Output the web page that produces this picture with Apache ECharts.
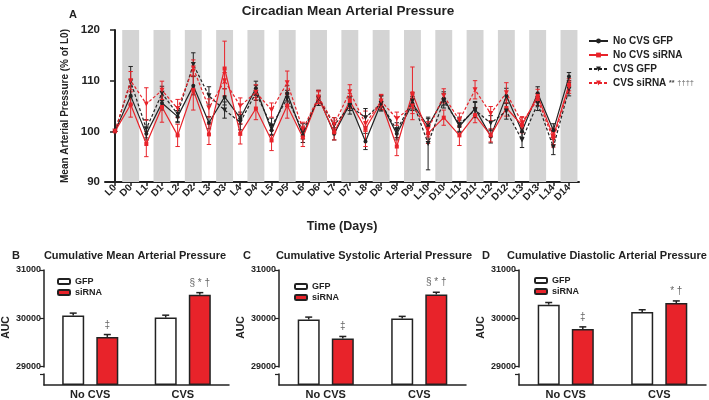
<!DOCTYPE html>
<html><head><meta charset="utf-8">
<script src="https://cdn.jsdelivr.net/npm/echarts@6/dist/echarts.min.js"></script>
<style>html,body{margin:0;padding:0;background:#fff}#c{width:709px;height:400px}</style>
</head><body><div id="c"></div>
<script>
// ---------- Data ----------
const timeLabels = ['L0','D0','L1','D1','L2','D2','L3','D3','L4','D4','L5','D5','L6','D6','L7','D7','L8','D8','L9','D9','L10','D10','L11','D11','L12','D12','L13','D13','L14','D14'];
const seriesNames = ['No CVS GFP','No CVS siRNA','CVS GFP','CVS siRNA'];
const noCvsGfp   = [100,107,99.5,105.6,102.9,109,101.7,106.8,102.6,108.5,100.2,107.5,99.2,106.8,99.5,105.5,98,105.6,99.5,105.5,101,106.5,101,104.5,99,107,100,107.5,100.2,110.8];
const noCvsSirna = [100,105.3,97.5,104.8,99.2,108.2,99.4,112.4,99.5,104.5,98.2,105.1,98.8,106.6,99.8,106,100.5,105.8,97,107.5,99.6,102.7,99.2,103.2,99.2,104.6,101.2,107,99,109.2];
const cvsGfp     = [100,109.8,100.5,107.5,103.4,113.2,107,104.2,101.8,107.6,101,106.5,100,106.6,101.2,105,102.7,105.5,100.2,106,97.6,106,101.4,104.2,101.6,104,98.3,105.5,96.9,108.3];
const cvsSirna   = [100,110,105.4,108.1,104.5,112.5,104.6,110,105,107.7,104.2,109.6,100.4,106.8,101.4,107.8,101.5,106,102.5,105,100.4,107,102.2,108.2,103.5,107.6,101.7,106.3,98.4,108.7];
const noCvsGfpErr   = [0,1.8,1.2,1.4,1.2,1.8,1.2,1.6,1.2,1.4,1,1.5,1.4,1.2,1.2,1.4,1.6,1.4,1.2,1.4,1.5,1.3,1.2,1.4,1.3,1.5,1.2,1.3,1.3,0.8];
const noCvsSirnaErr = [0,2.5,2.5,3,2.2,4,2,5.4,2,2.2,2,2.5,1.8,1.2,1.5,1.5,3.5,1.5,1.8,5.2,2,1.5,2,1.5,1.3,1.6,1.5,1.3,1.6,1.2];
const cvsGfpErr     = [0,3,1.8,1.4,1.5,2.3,1.8,1.6,1.5,1.5,1.6,1.6,1.5,1.5,1.5,1.6,1.8,1.5,1.5,1.6,5.2,1.4,1.4,1.5,1.5,1.6,1.5,1.4,1.5,1.3];
const cvsSirnaErr   = [0,1.8,3.2,1.8,1.8,1.6,1.8,1.6,1.6,1.5,1.4,2.3,1.4,1.3,1.3,1.4,1.5,1.2,1.3,1.5,1.5,1.4,1.4,1.8,1.4,2,1.2,1.2,1.5,1.2];

const barGroups = ['No CVS','CVS'];
const barLegend = ['GFP','siRNA'];
const mapGfp   = [30055, 30012];  const mapGfpErr   = [50,50];
const mapSirna = [29610, 30485];  const mapSirnaErr = [50,45];
const sapGfp   = [29972, 29992];  const sapGfpErr   = [50,45];
const sapSirna = [29575, 30493];  const sapSirnaErr = [45,45];
const dapGfp   = [30280, 30130];  const dapGfpErr   = [45,45];
const dapSirna = [29774, 30313];  const dapSirnaErr = [45,45];
const mapMarks = ['‡','§ * †'];
const sapMarks = ['‡','§ * †'];
const dapMarks = ['‡','* †'];
const barYTicks = [0,29000,30000,31000];

// ---------- Styles ----------
const FONT = 'Arial, "Liberation Sans", sans-serif';
const INK = '#222';
const RED = '#e8232a';
const BAR_W = 22, BAR_GAP = 0.55;

const chart = echarts.init(document.getElementById('c'), null, {renderer:'canvas'});

function lineSeries(name, vals, color, dashed, symbol){
  return {
    type:'line', name, xAxisIndex:0, yAxisIndex:0, z:4,
    data: vals.map((v,i)=>[i,v]),
    symbol, symbolSize: symbol==='triangle'?5:4, symbolRotate: symbol==='triangle'?180:0,
    lineStyle:{color, width:1.2, type: dashed?[3,2]:'solid'},
    itemStyle:{color},
    emphasis:{disabled:true}, animation:false
  };
}
function errSeries(vals, errs, color){
  return {
    type:'custom', xAxisIndex:0, yAxisIndex:0, z:3, silent:true, animation:false,
    data: vals.map((v,i)=>[i, v-errs[i], v+errs[i]]),
    encode:{x:0, y:[1,2]},
    renderItem(p, api){
      const x = api.value(0);
      const lo = api.coord([x, api.value(1)]);
      const hi = api.coord([x, api.value(2)]);
      const w = 2.2;
      const st = {stroke:color, lineWidth:1};
      return {type:'group', children:[
        {type:'line', shape:{x1:lo[0],y1:lo[1],x2:hi[0],y2:hi[1]}, style:st},
        {type:'line', shape:{x1:lo[0]-w,y1:lo[1],x2:lo[0]+w,y2:lo[1]}, style:st},
        {type:'line', shape:{x1:hi[0]-w,y1:hi[1],x2:hi[0]+w,y2:hi[1]}, style:st}
      ]};
    }
  };
}
// gray bands behind every dark-phase (D) category
const bandData = timeLabels.map((t,i)=>t[0]==='D' ? [{xAxis:i-0.54},{xAxis:i+0.54}] : null).filter(Boolean);

const series = [
  {type:'line', xAxisIndex:0, yAxisIndex:0, data:[], z:1, silent:true,
   markArea:{silent:true, itemStyle:{color:'#d4d4d4'}, data: bandData}},
  errSeries(noCvsGfp, noCvsGfpErr, INK),
  errSeries(noCvsSirna, noCvsSirnaErr, RED),
  errSeries(cvsGfp, cvsGfpErr, INK),
  errSeries(cvsSirna, cvsSirnaErr, RED),
  lineSeries(seriesNames[0], noCvsGfp, INK, false, 'circle'),
  lineSeries(seriesNames[1], noCvsSirna, RED, false, 'rect'),
  lineSeries(seriesNames[2], cvsGfp, INK, true, 'triangle'),
  lineSeries(seriesNames[3], cvsSirna, RED, true, 'triangle'),
];

// ---------- bar panels ----------
const panels = [
  {left:42,  gfp:mapGfp, gfpErr:mapGfpErr, si:mapSirna, siErr:mapSirnaErr, marks:mapMarks, legTop:272},
  {left:279, gfp:sapGfp, gfpErr:sapGfpErr, si:sapSirna, siErr:sapSirnaErr, marks:sapMarks, legTop:277},
  {left:519, gfp:dapGfp, gfpErr:dapGfpErr, si:dapSirna, siErr:dapSirnaErr, marks:dapMarks, legTop:271},
];
const grids = [{left:105, right:130, top:30, height:152}];
const xAxes = [{
  gridIndex:0, type:'value', min:-0.64, max:29.64, splitLine:{show:false},
  axisLine:{onZero:false, lineStyle:{color:INK, width:2}},
  axisTick:{customValues: timeLabels.map((t,i)=>i), length:4, lineStyle:{color:INK, width:1.5}},
  axisLabel:{customValues: timeLabels.map((t,i)=>i), rotate:45, margin:4,
    formatter: v => timeLabels[Math.round(v)], fontFamily:FONT, fontWeight:'bold', fontSize:10, color:INK},
  name:'Time (Days)', nameLocation:'middle', nameGap:38,
  nameTextStyle:{fontFamily:FONT, fontWeight:'bold', fontSize:12.5, color:INK}
}];
const yAxes = [{
  gridIndex:0, type:'value', min:90, max:120, interval:10, splitLine:{show:false},
  axisLine:{show:true, lineStyle:{color:INK, width:2}},
  axisTick:{show:true, length:5, lineStyle:{color:INK, width:1.5}},
  axisLabel:{fontFamily:FONT, fontWeight:'bold', fontSize:11.5, color:INK, margin:5},
  name:'Mean Arterial Pressure (% of L0)', nameLocation:'middle', nameGap:33,
  nameTextStyle:{fontFamily:FONT, fontWeight:'bold', fontSize:10, color:INK}
}];
const legends = [{
  data: seriesNames, orient:'vertical', left:583, top:31, itemWidth:19, itemHeight:6, itemGap:4,
  textStyle:{fontFamily:FONT, fontWeight:'bold', fontSize:10, color:INK,
    rich:{s:{fontFamily:FONT, fontWeight:'bold', fontSize:7, color:'#444'}, d:{fontFamily:FONT, fontSize:7.5, color:'#888'}}},
  formatter: n => n==='CVS siRNA' ? n + ' {s|**} {d|††††}' : n,
  selectedMode:false
}];

panels.forEach((pn, k) => {
  const gi = k+1;
  grids.push({left:pn.left, width:187, top:270, height:117});
  xAxes.push({gridIndex:gi, type:'category', data:barGroups,
    axisLine:{lineStyle:{color:INK, width:1.5}},
    axisTick:{alignWithLabel:true, length:4, lineStyle:{color:INK, width:1.2}},
    axisLabel:{fontFamily:FONT, fontWeight:'bold', fontSize:11, color:INK, margin:4}});
  yAxes.push({gridIndex:gi, type:'value', min:0, max:31000, interval:1000,
    breaks:[{start:225, end:29000, gap:163}],
    breakArea:{show:true, zigzagAmplitude:0, itemStyle:{color:'rgba(255,255,255,0)', borderColor:'rgba(255,255,255,0)', borderWidth:0, opacity:1}},
    splitLine:{show:false},
    axisLine:{show:true, lineStyle:{color:INK, width:1.5}},
    axisTick:{show:true, length:4, lineStyle:{color:INK, width:1.2}},
    axisLabel:{fontFamily:FONT, fontWeight:'bold', fontSize:9, color:INK, margin:3,
      formatter: v => barYTicks.includes(v) ? String(v) : ''},
    name:'AUC', nameLocation:'middle', nameGap:32,
    nameTextStyle:{fontFamily:FONT, fontWeight:'bold', fontSize:10.5, color:INK}});
  series.push({type:'bar', name:barLegend[0], xAxisIndex:gi, yAxisIndex:gi, data:pn.gfp,
    barWidth:BAR_W, barGap:(BAR_GAP*100)+'%',
    itemStyle:{color:'#fff', borderColor:INK, borderWidth:1.5}, animation:false, emphasis:{disabled:true}});
  series.push({type:'bar', name:barLegend[1], xAxisIndex:gi, yAxisIndex:gi, data:pn.si,
    barWidth:BAR_W, barGap:(BAR_GAP*100)+'%',
    itemStyle:{color:RED, borderColor:INK, borderWidth:1.5}, animation:false, emphasis:{disabled:true},
    label:{show:true, position:'top', distance:7, formatter: p => pn.marks[p.dataIndex],
      fontFamily:FONT, fontSize:10, color:'#666'}});
  [[pn.gfp, pn.gfpErr, -1],[pn.si, pn.siErr, 1]].forEach(([vals, errs, side]) => {
    series.push({type:'custom', xAxisIndex:gi, yAxisIndex:gi, silent:true, z:3, animation:false,
      data: vals.map((v,i)=>[i, v, v+errs[i]]), encode:{x:0, y:[1,2]},
      renderItem(p, api){
        const a = api.coord([api.value(0), api.value(1)]);
        const b = api.coord([api.value(0), api.value(2)]);
        const x = a[0] + side*(BAR_W + BAR_W*BAR_GAP)/2;
        const st = {stroke:INK, lineWidth:1.5};
        return {type:'group', children:[
          {type:'line', shape:{x1:x, y1:a[1], x2:x, y2:b[1]}, style:st},
          {type:'line', shape:{x1:x-3.5, y1:b[1], x2:x+3.5, y2:b[1]}, style:st}
        ]};
      }});
  });
  legends.push({data:barLegend, orient:'vertical', left:pn.left+10, top:pn.legTop,
    itemWidth:12, itemHeight:5, itemGap:2, selectedMode:false,
    textStyle:{fontFamily:FONT, fontWeight:'bold', fontSize:9, color:INK}});
});

const tStyle = {fontFamily:FONT, fontWeight:'bold', color:INK};
chart.setOption({
  animation:false,
  title:[
    {text:'Circadian Mean Arterial Pressure', left:343, top:-1, textAlign:'center', textStyle:{...tStyle, fontSize:13.5}},
    {text:'A', left:64, top:4, textStyle:{...tStyle, fontSize:11}},
    {text:'B', left:7, top:245, textStyle:{...tStyle, fontSize:11}},
    {text:'Cumulative Mean Arterial Pressure', left:130, top:245, textAlign:'center', textStyle:{...tStyle, fontSize:11}},
    {text:'C', left:238, top:245, textStyle:{...tStyle, fontSize:11}},
    {text:'Cumulative Systolic Arterial Pressure', left:369, top:245, textAlign:'center', textStyle:{...tStyle, fontSize:11}},
    {text:'D', left:477, top:245, textStyle:{...tStyle, fontSize:11}},
    {text:'Cumulative Diastolic Arterial Pressure', left:602, top:245, textAlign:'center', textStyle:{...tStyle, fontSize:11}},
  ],
  legend: legends,
  grid: grids,
  xAxis: xAxes,
  yAxis: yAxes,
  series
});
</script></body></html>
